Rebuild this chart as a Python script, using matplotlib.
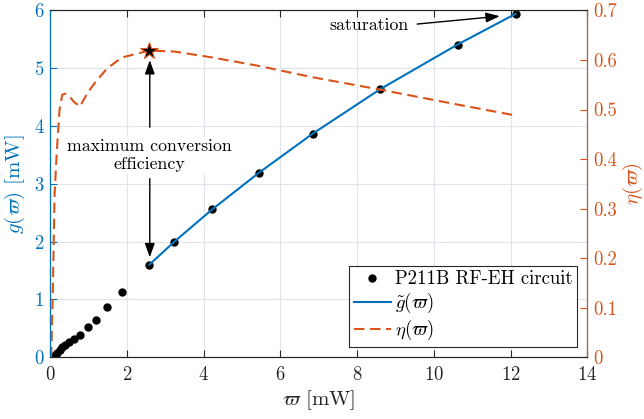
import numpy as np
import matplotlib
matplotlib.use("Agg")
import matplotlib.pyplot as plt

plt.rcParams["font.family"] = "serif"
plt.rcParams["font.serif"] = ["cmr10", "DejaVu Serif"]
plt.rcParams["mathtext.fontset"] = "cm"
plt.rcParams["axes.formatter.use_mathtext"] = True

BLUE = "#0072BD"
ORANGE = "#D95319"
DARK = "#262626"

# measured input power [mW] and harvested power [mW]
p_in = [0.03, 0.07, 0.12, 0.18, 0.25, 0.32, 0.40, 0.49, 0.63, 0.78, 0.99,
        1.19, 1.49, 1.875, 2.586, 3.24, 4.23, 5.44, 6.85, 8.61, 10.62, 12.13]
p_out = [0.0, 0.01, 0.04, 0.075, 0.125, 0.17, 0.21, 0.26, 0.32, 0.39, 0.52,
         0.65, 0.87, 1.13, 1.60, 2.00, 2.56, 3.19, 3.87, 4.64, 5.41, 5.94]
# conversion efficiency
eta = [0.0, 0.12, 0.33, 0.42, 0.50, 0.53, 0.532, 0.528, 0.515, 0.506, 0.535,
       0.556, 0.583, 0.605, 0.619, 0.617, 0.605, 0.588, 0.565, 0.54, 0.51, 0.488]

# fitted curve (high-power region)
fit_x = [2.586, 3.24, 4.23, 5.44, 6.85, 8.61, 10.62, 12.13]
fit_y = [1.60, 2.00, 2.56, 3.19, 3.87, 4.64, 5.41, 5.94]

eta_max_x = 2.586
eta_max = 0.619

fig = plt.figure(figsize=(6.44, 4.19), dpi=100)
ax = fig.add_axes([50 / 644, 1 - 357.3 / 419, 537.3 / 644, 346.9 / 419])
ax2 = ax.twinx()

ax.plot(p_in, p_out, "o", color="black", ms=5, label="P211B RF-EH circuit")
l1, = ax.plot(fit_x, fit_y, "-", color=BLUE, lw=1.5, label=r"$\tilde{g}(\varpi)$")
l2, = ax2.plot(p_in, eta, "--", color=ORANGE, lw=1.5, dashes=(5, 2.7),
               label=r"$\eta(\varpi)$")
ax2.plot(eta_max_x, eta_max, "*", color="black", mec=ORANGE, mew=0.8, ms=13)

ax.set_xlim(0, 14)
ax.set_ylim(0, 6)
ax2.set_ylim(0, 0.7)
ax.set_xticks(np.arange(0, 15, 2))
ax.set_yticks(np.arange(0, 7, 1))
ax2.set_yticks(np.arange(0, 0.71, 0.1))
ax2.set_yticklabels(["0", "0.1", "0.2", "0.3", "0.4", "0.5", "0.6", "0.7"])

ax.grid(True, color="#dfe4ea", lw=0.8)
ax.set_axisbelow(True)

ax.tick_params(axis="x", direction="in", top=True, colors=DARK, labelsize=13.5,
               length=5, pad=6)
ax.tick_params(axis="y", direction="in", colors=BLUE, labelsize=13.5, length=5,
               pad=4)
ax2.tick_params(axis="y", direction="in", colors=ORANGE, labelsize=13.5,
                length=5, pad=4)

for s in ["top", "bottom"]:
    ax.spines[s].set_color(DARK)
    ax2.spines[s].set_color(DARK)
ax2.spines["left"].set_color(BLUE)
ax2.spines["right"].set_color(ORANGE)

ax.set_xlabel(r"$\varpi$ [mW]", fontsize=15, color=DARK, labelpad=3)
ax.set_ylabel(r"$g(\varpi)$ [mW]", fontsize=15, color=BLUE, labelpad=5)
ax2.set_ylabel(r"$\eta(\varpi)$", fontsize=15, color=ORANGE, labelpad=3)

arrow_kw = dict(arrowstyle="-|>,head_length=0.7,head_width=0.25",
                color="black", lw=1, mutation_scale=12)

ax.annotate("saturation", xy=(11.72, 5.90), xytext=(9.35, 5.75),
            fontsize=12.8, ha="right", va="center",
            arrowprops=dict(relpos=(1, 0.5), shrinkA=4, shrinkB=0, **arrow_kw))
ax.text(2.6, 3.49, "maximum conversion\nefficiency", fontsize=12.8,
        ha="center", va="center", linespacing=1.25,
        bbox=dict(fc="white", ec="none", pad=1))
ax.annotate("", xy=(2.6, 5.14), xytext=(2.6, 3.98),
            arrowprops=dict(shrinkA=0, shrinkB=0, **arrow_kw))
ax.annotate("", xy=(2.6, 1.73), xytext=(2.6, 3.09),
            arrowprops=dict(shrinkA=0, shrinkB=0, **arrow_kw))

h0 = ax.get_legend_handles_labels()[0][0]
leg = ax2.legend([h0, l1, l2], ["P211B RF-EH circuit", r"$\tilde{g}(\varpi)$",
                                r"$\eta(\varpi)$"],
                 loc="lower right", fontsize=13.5, fancybox=False,
                 edgecolor=DARK, framealpha=1, handlelength=2.0,
                 borderaxespad=0.55, labelspacing=0.15, handletextpad=0.2,
                 borderpad=0.25)
leg.get_frame().set_linewidth(0.8)

fig.savefig("out.png", dpi=100)
